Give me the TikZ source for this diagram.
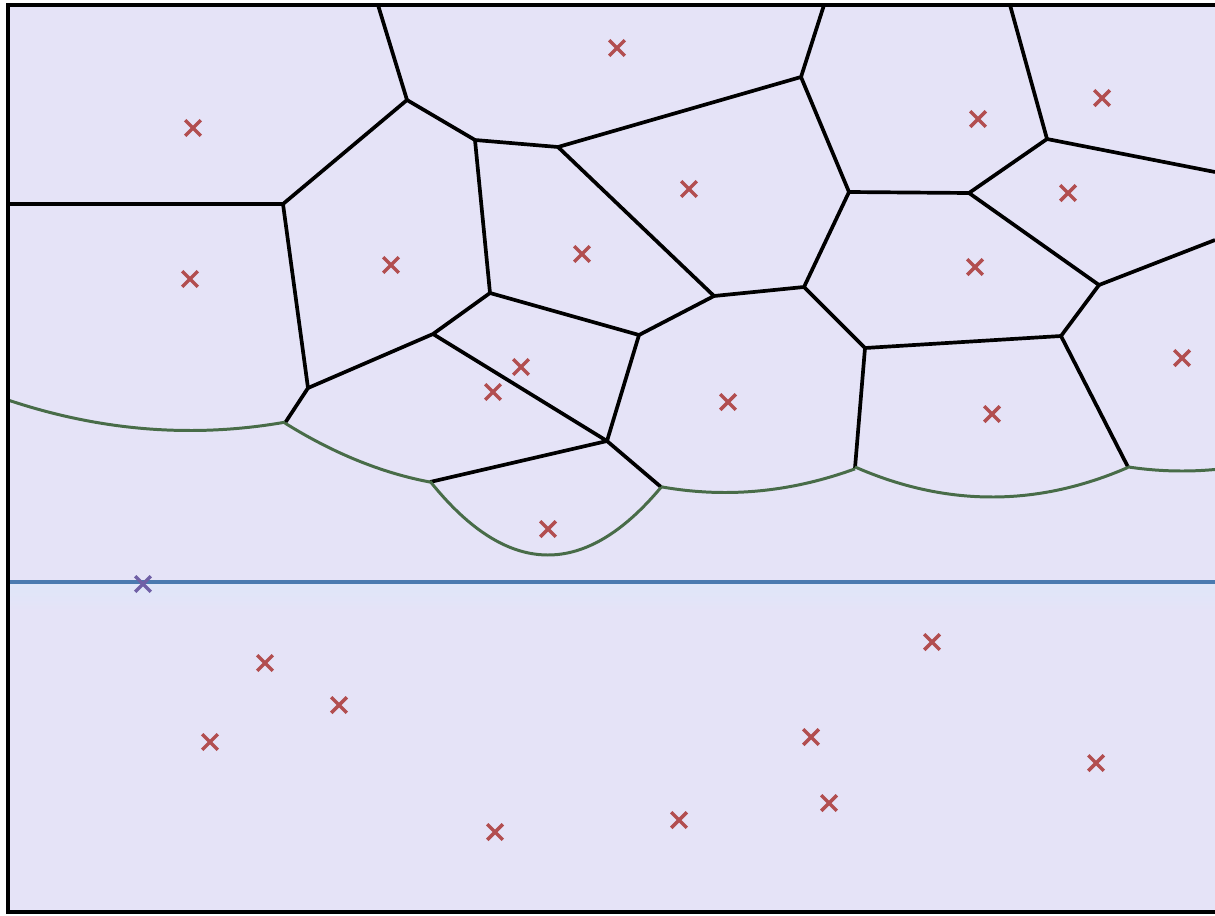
\documentclass[tikz,border=0pt]{standalone}
\usetikzlibrary{shapes.misc}
\definecolor{cellbg}{RGB}{229,227,247}
\definecolor{sitered}{RGB}{178,78,80}
\definecolor{sitepurple}{RGB}{112,96,166}
\definecolor{beachgreen}{RGB}{72,108,72}
\definecolor{sweepblue}{RGB}{74,122,176}
\definecolor{sweeplight}{RGB}{222,230,249}
\begin{document}
\begin{tikzpicture}[x=0.01cm, y=-0.01cm,
  site/.style={cross out, draw=sitered, line width=1pt, minimum size=0.12cm, inner sep=0pt},
  edge/.style={line width=1.05pt, line join=round},
  beach/.style={beachgreen, line width=0.85pt}]
\useasboundingbox (0,0) rectangle (1215,915);
\clip (0,0) rectangle (1215,915);
\fill[cellbg] (8,5) rectangle (1230,912);
\shade[top color=sweeplight, bottom color=cellbg] (8,582) rectangle (1230,610);

% points on the frame
\coordinate (t1) at (378,5);
\coordinate (t2) at (824,5);
\coordinate (t3) at (1010,5);
\coordinate (l1) at (8,204);
\coordinate (r1) at (1215,172);
\coordinate (r2) at (1215,240);
\coordinate (l2) at (8,582);
\coordinate (r3) at (1215,582);

% vertices
\coordinate (v1) at (407,100);
\coordinate (v2) at (475,140);
\coordinate (v3) at (558,147);
\coordinate (v4) at (283,204);
\coordinate (v5) at (490,293);
\coordinate (v6) at (433,334);
\coordinate (v7) at (308,388);
\coordinate (v9) at (607,441);
\coordinate (v10) at (801,77);
\coordinate (v11) at (1047,139);
\coordinate (v12) at (849,192);
\coordinate (v13) at (969,193);
\coordinate (v14) at (1099,285);
\coordinate (v15) at (804,287);
\coordinate (v16) at (714,296);
\coordinate (v17) at (639,335);
\coordinate (v18) at (865,348);
\coordinate (v19) at (1061,336);

% breakpoints on the beach line
\coordinate (b1) at (285,423);
\coordinate (b2) at (430,482);
\coordinate (b3) at (661,487);
\coordinate (b4) at (855,468);
\coordinate (b5) at (1128,467);

% edges
\draw[edge] (t1) -- (v1) -- (v4) -- (l1);
\draw[edge] (v4) -- (v7) -- (b1);
\draw[edge] (v1) -- (v2) -- (v3) -- (v10) -- (t2);
\draw[edge] (v2) -- (v5) -- (v6) -- (v7);
\draw[edge] (v6) -- (v9) -- (b2);
\draw[edge] (v9) -- (b3);
\draw[edge] (v5) -- (v17) -- (v9);
\draw[edge] (v3) -- (v16) -- (v17);
\draw[edge] (v16) -- (v15) -- (v12) -- (v10);
\draw[edge] (v12) -- (v13) -- (v11) -- (t3);
\draw[edge] (v11) -- (r1);
\draw[edge] (v13) -- (v14) -- (r2);
\draw[edge] (v14) -- (v19) -- (v18) -- (v15);
\draw[edge] (v18) -- (b4);
\draw[edge] (v19) -- (b5);

% beach line
\draw[beach] plot[domain=8:285, samples=40] (\x,{430.5-9.2*((\x-190)/100)^2});
\draw[beach] plot[domain=285:430, samples=30] (\x,{488-15*((\x-493)/100)^2});
\draw[beach] plot[domain=430:661, samples=50] (\x,{555-53*((\x-548)/100)^2});
\draw[beach] plot[domain=661:855, samples=40] (\x,{492.5-14*((\x-725)/100)^2});
\draw[beach] plot[domain=855:1128, samples=50] (\x,{497-16*((\x-992)/100)^2});
\draw[beach] plot[domain=1128:1215, samples=20] (\x,{471-14*((\x-1182)/100)^2});

% sweep line
\draw[sweepblue, line width=0.9pt] (l2) -- (r3);

% sites
\foreach \px/\py [count=\i] in {193/128, 617/48, 190/279, 391/265, 582/254,
    689/189, 978/119, 1102/98, 1068/193, 975/267, 1182/358, 521/367,
    493/392, 728/402, 992/414, 548/529, 265/663, 339/705, 210/742,
    932/642, 811/737, 1096/763, 829/803, 679/820, 495/832}
  \node[site] (s\i) at (\px,\py) {};
\node[site, draw=sitepurple] (s26) at (143,584) {};

% frame
\draw[line width=1pt] (8,5) rectangle (1230,912);
\end{tikzpicture}
\end{document}
